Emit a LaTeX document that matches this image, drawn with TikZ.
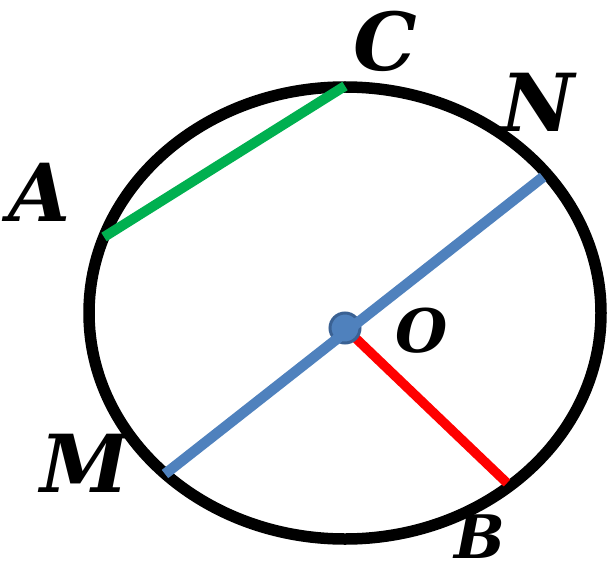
\documentclass[tikz,border=0pt]{standalone}
\usepackage{fontspec}
\setmainfont{DejaVu Serif}
\definecolor{chordgreen}{HTML}{00B050}
\definecolor{diamblue}{HTML}{4F81BD}
\definecolor{dotedge}{HTML}{3A6193}
\begin{document}
\begin{tikzpicture}[x=1pt,y=-1pt,
  lbl/.style={inner sep=0pt,font=\fontsize{80}{80}\selectfont\bfseries\itshape},
  lblsmall/.style={inner sep=0pt,font=\fontsize{60}{60}\selectfont\bfseries\itshape}]
\useasboundingbox (0,0) rectangle (607,564);
\draw[line width=11.5pt] (345,313) ellipse [x radius=256, y radius=226];
\coordinate (O) at (345,328);
\coordinate (A) at (104,237);
\coordinate (C) at (345,86);
\coordinate (M) at (165,474);
\coordinate (N) at (543,177);
\coordinate (B) at (507,483);
\draw[chordgreen,line width=10pt] (A) -- (C);
\draw[red,line width=9.5pt] (O) -- (B);
\fill[diamblue,draw=dotedge,line width=3pt] (O) circle (15);
\draw[diamblue,line width=10.5pt] (M) -- (N);
\node[lbl] (lC) at (385,41.5) {C};
\node[lbl] (lN) at (538,102) {N};
\node[lbl] (lA) at (40,192) {A};
\node[lblsmall] (lO) at (422,331) {O};
\node[lbl] (lM) at (85,463.5) {M};
\node[lblsmall] (lB) at (480,537) {B};
\end{tikzpicture}
\end{document}
